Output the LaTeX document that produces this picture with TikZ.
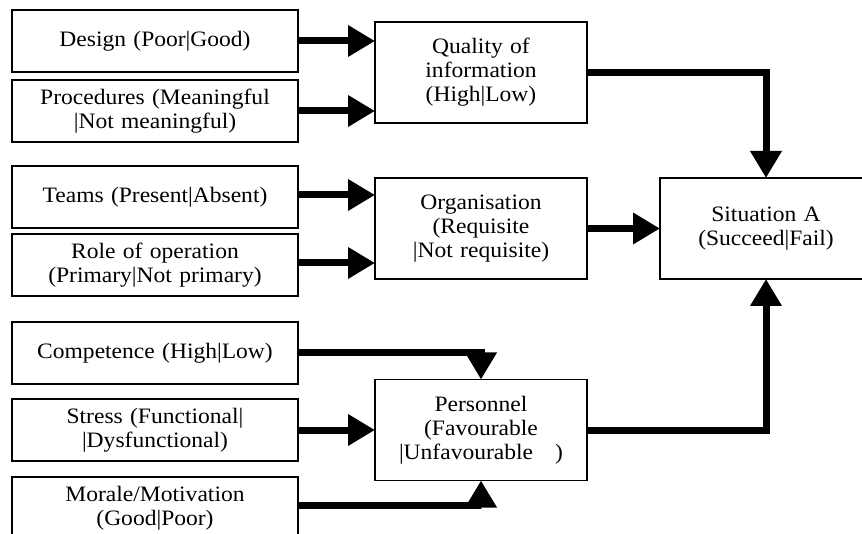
\documentclass[tikz,border=0pt]{standalone}
\usepackage{fontspec}
\setmainfont{Liberation Serif}[FakeStretch=1.07]
\usepackage{tikz}
\usetikzlibrary{positioning, arrows.meta, calc}
\tikzset{
  factorbox/.style={rectangle, draw=black, line width=1.4pt, minimum width=286pt, minimum height=62pt, text width=272pt, align=center, inner sep=0pt, outer sep=0pt},
  groupbox/.style={rectangle, draw=black, line width=1.4pt, minimum width=212pt, minimum height=101pt, text width=200pt, align=center, inner sep=0pt, outer sep=0pt},
  arrow/.style={line width=7pt, -{Triangle[length=27pt, width=30pt]}}
}

\begin{document}
\begin{tikzpicture}[x=1pt, y=1pt, every node/.style={font=\fontsize{22}{24}\selectfont}]
        \useasboundingbox (0,0) rectangle (862,-534);

        % factors on the left
        \node (design) [factorbox, anchor=north west] at (12,-10) {Design (Poor|Good)};
        \node (procedures) [factorbox, below=8pt of design] {Procedures (Meaningful\\|Not meaningful)};
        \node (teams) [factorbox, below=24pt of procedures] {Teams (Present|Absent)};
        \node (role) [factorbox, below=6pt of teams] {Role of operation\\(Primary|Not primary)};
        \node (competence) [factorbox, below=26pt of role] {Competence (High|Low)};
        \node (stress) [factorbox, below=15pt of competence] {Stress (Functional|\\|Dysfunctional)};
        \node (morale) [factorbox, below=16pt of stress] {Morale/Motivation\\(Good|Poor)};

        % grouped aspects
        \node (quality) [groupbox, anchor=north west] at ([xshift=77pt, yshift=-12pt]design.north east) {Quality of\\information\\(High|Low)};
        \node (organisation) [groupbox, anchor=north west] at ([xshift=77pt, yshift=-12pt]teams.north east) {Organisation\\(Requisite\\|Not requisite)};
        \node (personnel) [groupbox, right=77pt of stress] {Personnel\\(Favourable\\|Unfavourable\ \ \ )};
        \node (situation) [groupbox, right=73pt of organisation] {Situation A\\(Succeed|Fail)};

        \draw [arrow] (design.east) -- (design.east -| quality.west);
        \draw [arrow] (procedures.east) -- (procedures.east -| quality.west);
        \draw [arrow] ([yshift=2pt]teams.east) -- ([yshift=2pt]teams.east -| organisation.west);
        \draw [arrow] ([yshift=2pt]role.east) -- ([yshift=2pt]role.east -| organisation.west);

        \draw [arrow] (competence.east) -| (personnel.north);
        \draw [arrow] (stress.east) -- (personnel.west);
        \draw [arrow] ([yshift=3pt]morale.east) -| (personnel.south);

        % into the situation
        \draw [arrow] (quality.east) -| (situation.north);
        \draw [arrow] (organisation.east) -- (situation.west);
        \draw [arrow] (personnel.east) -| (situation.south);

    \end{tikzpicture}
\end{document}
